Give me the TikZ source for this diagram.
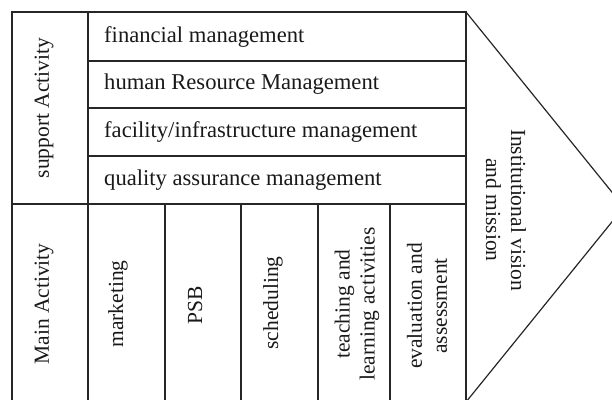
\documentclass[tikz,border=0pt]{standalone}
\usepackage{fontspec}
\setmainfont{Liberation Serif}
\begin{document}
\begin{tikzpicture}[x=1pt,y=-1pt,
  frame/.style={line width=1.2pt, draw=black!85},
  label/.style={font=\fontsize{21.5}{25}\selectfont, inner sep=0pt, text=black!90},
  rowlabel/.style={label, font=\fontsize{22.6}{26}\selectfont, anchor=base west},
  collabel/.style={label, rotate=90, align=center},
  arrowlabel/.style={label, rotate=-90, align=center},
]
\useasboundingbox (0,0) rectangle (612,399);
\clip (0,0) rectangle (612,399);

% outer frame and the two header columns
\draw[frame] (12,12) rectangle (466,402);
\draw[frame] (88,12) -- (88,402);

% support activity rows
\draw[frame] (88,61) -- (466,61);
\draw[frame] (88,108) -- (466,108);
\draw[frame] (88,156) -- (466,156);
\draw[frame] (12,204) -- (466,204);

% main activity columns
\foreach \cx in {165,241,318,390}
  \draw[frame] (\cx,204) -- (\cx,402);

% arrow head carrying the vision and mission
\coordinate (tipTop) at (466,12);
\coordinate (tip) at (624,207);
\coordinate (tipBot) at (466,402);
\draw[frame] (tipTop) -- (tip) -- (tipBot);

% side headings
\node[collabel] (support) at (44,108) {support Activity};
\node[collabel] (main) at (44,304) {Main Activity};

% support rows
\node[rowlabel] (fin) at (104,42) {financial management};
\node[rowlabel] (hrm) at (104,89) {human Resource Management};
\node[rowlabel] (fac) at (104,137) {facility/infrastructure management};
\node[rowlabel] (qam) at (104,185) {quality assurance management};

% main columns
\node[collabel] (mkt) at (118,304) {marketing};
\node[collabel] (psb) at (195,305) {PSB};
\node[collabel] (sched) at (273,303) {scheduling};
\node[collabel] (teach) at (357,304) {teaching and\\learning activities};
\node[collabel] (eval) at (427,306) {evaluation and\\assessment};

% vision and mission
\node[arrowlabel] (vision) at (506,210) {Institutional vision\\and mission};
\end{tikzpicture}
\end{document}
